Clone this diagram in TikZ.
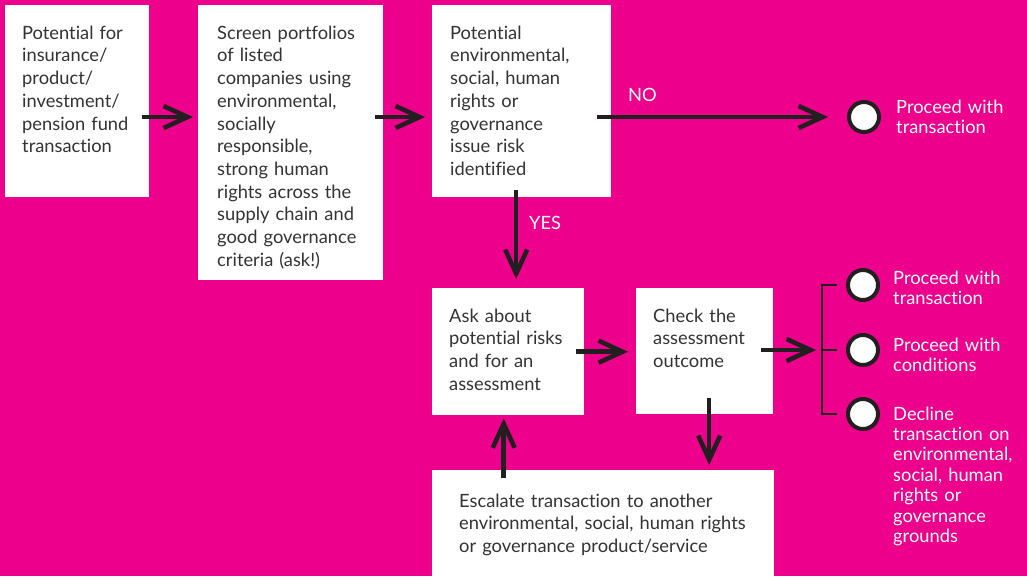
\documentclass[tikz,border=0pt]{standalone}
\usepackage{fontspec}
\setmainfont{Lato}[Ligatures=NoCommon]
\usetikzlibrary{arrows.meta}
\definecolor{pinkbg}{HTML}{EC008C}
\definecolor{inkdark}{HTML}{231F20}
\definecolor{boxtext}{HTML}{333333}

\begin{document}
\begin{tikzpicture}
  [x=1pt,y=-1pt,
   box/.style={fill=white,anchor=north west,align=left,inner xsep=17pt,inner ysep=0pt,
     text height=34pt,text=boxtext,font=\fontsize{18.3}{22.7}\selectfont},
   outcome/.style={circle,draw=inkdark,line width=4pt,fill=white,minimum size=30pt,inner sep=0pt},
   lbl/.style={anchor=base west,align=left,text width=135pt,inner sep=0pt,text=white,
     font=\fontsize{18.3}{20.4}\selectfont},
   yn/.style={anchor=base west,inner sep=0pt,text=white,font=\fontsize{18.3}{20.4}\selectfont},
   arr/.style={draw=inkdark,line width=4.5pt,-{Straight Barb[length=24pt,width=22pt]}},
   bracket/.style={draw=inkdark,line width=2.5pt}]

  \useasboundingbox (0,0) rectangle (1027,576);
  \fill[pinkbg] (0,0) rectangle (1027,576);

  % boxes
  \node (pot) [box,text width=110pt,text depth=158pt] at (5,5)
    {Potential for\\insurance/\\product/\\investment/\\pension fund\\transaction};
  \node (scr) [box,inner xsep=19pt,text width=147pt,text depth=241pt] at (198,5)
    {Screen portfolios\\of listed\\companies using\\environmental,\\socially\\responsible,\\strong human\\rights across the\\supply chain and\\good governance\\criteria (ask!)};
  \node (iss) [box,inner xsep=18pt,text width=143pt,text depth=158pt] at (432,5)
    {Potential\\environmental,\\social, human\\rights or\\governance\\issue risk\\identified};
  \node (ask) [box,text width=118pt,text depth=93pt] at (432,288)
    {Ask about\\potential risks\\and for an\\assessment};
  \node (chk) [box,text width=103pt,text depth=92pt] at (636,288)
    {Check the\\assessment\\outcome};
  \node (esc) [box,inner xsep=27pt,text width=288pt,text height=37pt,text depth=69pt] at (432,470)
    {Escalate transaction to another\\environmental, social, human rights\\or governance product/service};

  % outcomes
  \node (c1) [outcome] at (864,117) {};
  \node (c2) [outcome] at (863,285) {};
  \node (c3) [outcome] at (863,350) {};
  \node (c4) [outcome] at (863,414) {};
  \node (l1) [lbl] at ([xshift=15pt,yshift=4pt]c1.east) {Proceed with\\transaction};
  \node (l2) [lbl] at ([xshift=13pt,yshift=1pt]c2.east) {Proceed with\\transaction};
  \node (l3) [lbl] at ([xshift=13pt,yshift=-1pt]c3.east) {Proceed with\\conditions};
  \node (l4) [lbl] at ([xshift=13pt,yshift=-6pt]c4.east) {Decline\\transaction on\\environmental,\\social, human\\rights or\\governance\\grounds};

  \coordinate (brk) at ([xshift=-24pt]c3.west);
  \draw[bracket] ([xshift=-9pt]c2.west) -| (brk |- c4) -- ([xshift=-9pt]c4.west);
  \draw[bracket] (brk) -- ([xshift=-9pt]c3.west);

  % arrows
  \draw[arr,shorten <=-7pt,shorten >=5pt] (pot.east |- c1) -- (scr.west |- c1);
  \draw[arr,shorten <=-8pt,shorten >=7pt] (scr.east |- c1) -- (iss.west |- c1);
  \draw[arr,shorten <=-14pt,shorten >=19pt] (iss.east |- c1) -- (c1.west);
  \draw[arr,shorten <=-7pt,shorten >=9pt] ([xshift=-5.5pt]iss.south) -- ([xshift=-5.5pt]iss.south |- ask.north);
  \draw[arr,shorten <=-8pt,shorten >=8pt] (ask.east) -- (ask.east -| chk.west);
  \draw[arr,shorten <=-12pt,shorten >=6pt] (chk.east |- c3) -- (brk);
  \draw[arr,shorten <=-16pt,shorten >=5pt] ([xshift=4.5pt]chk.south) -- ([xshift=4.5pt]chk.south |- esc.north);
  \draw[arr,shorten <=-8pt,shorten >=3pt] ([xshift=-4.5pt]ask.south |- esc.north) -- ([xshift=-4.5pt]ask.south);

  \node (no) [yn] at (628,101) {NO};
  \node (yes) [yn] at (529,229) {YES};
\end{tikzpicture}
\end{document}
